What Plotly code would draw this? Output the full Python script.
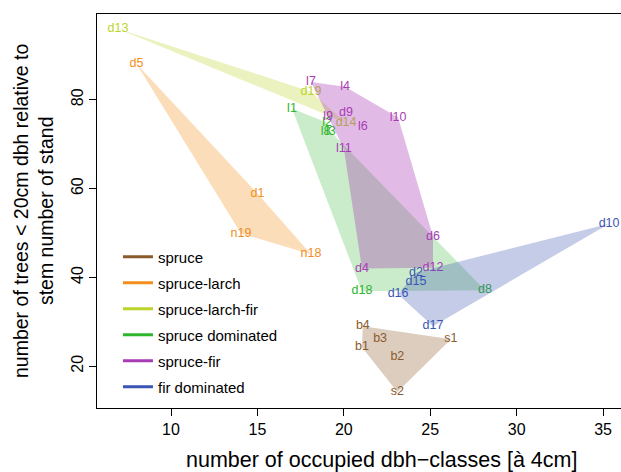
import plotly.graph_objects as go

# ---- data ----
groups = ["spruce", "spruce-larch", "spruce-larch-fir", "spruce dominated", "spruce-fir", "fir dominated"]
colors = ["#8B5A2B", "#F28E1C", "#BCD42A", "#2DB52D", "#A83CB5", "#3A55B4"]
fill_alpha = [0.3, 0.3, 0.3, 0.25, 0.35, 0.3]

spruce_lab = ["b4", "b3", "b1", "b2", "s1", "s2"]
spruce_x = [21.1, 22.1, 21.05, 23.1, 26.2, 23.1]
spruce_y = [29.0, 26.1, 24.3, 22.0, 26.1, 14.2]
spruce_poly = ["b4", "s1", "s2", "b1"]

larch_lab = ["d5", "d1", "n19", "n18"]
larch_x = [8.0, 15.0, 14.05, 18.1]
larch_y = [88.1, 58.9, 49.9, 45.2]
larch_poly = ["d5", "d1", "n18", "n19"]

slf_lab = ["d13", "d19", "d14"]
slf_x = [6.93, 18.1, 20.13]
slf_y = [96.0, 81.8, 74.8]
slf_poly = ["d13", "d19", "d14"]

sdom_lab = ["l1", "l2", "l3", "l8", "d18", "d8"]
sdom_x = [17.0, 19.03, 19.25, 18.95, 21.05, 28.17]
sdom_y = [78.0, 74.8, 72.8, 72.8, 36.9, 37.1]
sdom_poly = ["l1", "l2", "l3", "d8", "d18"]

sfir_lab = ["l7", "l4", "l10", "d9", "l9", "l6", "l11", "d6", "d12", "d4"]
sfir_x = [18.1, 20.07, 23.14, 20.13, 19.09, 21.1, 20.0, 25.16, 25.16, 21.05]
sfir_y = [84.0, 82.9, 76.0, 77.1, 76.2, 73.9, 69.0, 49.2, 42.2, 42.0]
sfir_poly = ["l7", "l4", "l10", "d6", "d12", "d4", "l11", "l9"]

fdom_lab = ["d2", "d15", "d16", "d17", "d10"]
fdom_x = [24.18, 24.18, 23.14, 25.16, 35.35]
fdom_y = [41.1, 38.9, 36.2, 29.0, 52.1]
fdom_poly = ["d2", "d10", "d17", "d16"]

data = [
    (spruce_lab, spruce_x, spruce_y, spruce_poly),
    (larch_lab, larch_x, larch_y, larch_poly),
    (slf_lab, slf_x, slf_y, slf_poly),
    (sdom_lab, sdom_x, sdom_y, sdom_poly),
    (sfir_lab, sfir_x, sfir_y, sfir_poly),
    (fdom_lab, fdom_x, fdom_y, fdom_poly),
]

x_ticks = [10, 15, 20, 25, 30, 35]
y_ticks = [20, 40, 60, 80]

FONT = "Liberation Sans, Arial, Helvetica, sans-serif"


def rgba(hexc, a):
    h = hexc.lstrip("#")
    r, g, b = int(h[0:2], 16), int(h[2:4], 16), int(h[4:6], 16)
    return f"rgba({r},{g},{b},{a})"


fig = go.Figure()
for (lab, xs, ys, poly), col, a in zip(data, colors, fill_alpha):
    idx = {l: i for i, l in enumerate(lab)}
    px_ = [xs[idx[p]] for p in poly] + [xs[idx[poly[0]]]]
    py_ = [ys[idx[p]] for p in poly] + [ys[idx[poly[0]]]]
    fig.add_trace(go.Scatter(x=px_, y=py_, mode="lines", fill="toself",
                             fillcolor=rgba(col, a), line=dict(width=0),
                             hoverinfo="skip", showlegend=False))
    fig.add_trace(go.Scatter(x=xs, y=ys, mode="text", text=lab,
                             textposition="middle center", cliponaxis=False,
                             textfont=dict(color=col, size=12.5, family=FONT),
                             showlegend=False))

for g, col in zip(groups, colors):
    fig.add_trace(go.Scatter(x=[None], y=[None], mode="lines", name=g,
                             line=dict(color=col, width=3), legendgroup=g))

fig.update_layout(
    width=621, height=472,
    margin=dict(l=97, r=0, t=14, b=64),
    paper_bgcolor="white", plot_bgcolor="white",
    font=dict(family=FONT, color="black"),
    showlegend=True,
    legend=dict(x=0.04, y=0.425, xanchor="left", yanchor="top",
                font=dict(size=15, family=FONT), bgcolor="rgba(0,0,0,0)",
                tracegroupgap=3.5, itemwidth=30),
)
fig.update_xaxes(range=[5.717, 36.04], showgrid=False, zeroline=False,
                 showline=True, linecolor="black", linewidth=1, mirror=True,
                 ticks="outside", ticklen=7, tickcolor="black",
                 tickvals=x_ticks, tickfont=dict(size=16, family=FONT))
fig.update_yaxes(range=[10.6, 99.3], showgrid=False, zeroline=False,
                 showline=True, linecolor="black", linewidth=1, mirror=False,
                 ticks="outside", ticklen=7, tickcolor="black",
                 tickvals=y_ticks, tickangle=-90, tickfont=dict(size=16, family=FONT))

fig.add_annotation(xref="paper", yref="paper", x=(381 - 97) / 524, y=-(460 - 408) / 394,
                   text="number of occupied dbh\u2212classes [à 4cm]", showarrow=False,
                   xanchor="center", yanchor="middle", font=dict(size=21.5, family=FONT))
fig.add_annotation(xref="paper", yref="paper", x=-(97 - 33) / 524, y=0.5,
                   text="number of trees < 20cm dbh relative to<br>stem number of stand",
                   showarrow=False, textangle=-90, xanchor="center", yanchor="middle",
                   font=dict(size=19.5, family=FONT))

fig.write_html("out.html", post_script="document.body.style.margin='0';",
               config={"displayModeBar": False})
